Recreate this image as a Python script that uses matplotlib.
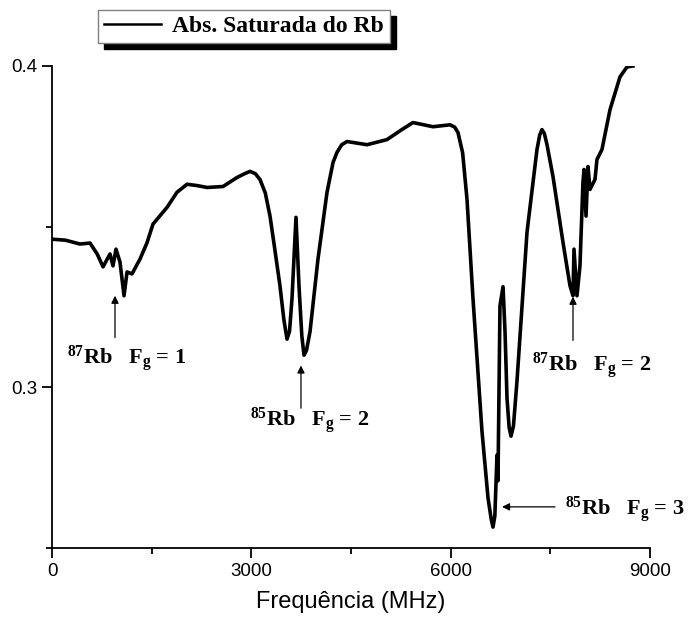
import matplotlib.pyplot as plt
from matplotlib.ticker import MultipleLocator

# saturated absorption trace
freq = [0, 200, 421, 572, 680, 768, 873, 918, 963, 1023, 1084, 1129, 1204, 1324,
        1430, 1520, 1731, 1881, 2032, 2180, 2333, 2574, 2784, 2900, 2980, 3060, 3130,
        3210, 3281, 3360, 3431, 3490, 3537, 3575, 3612, 3672, 3717, 3760, 3793,
        3830, 3883, 4003, 4139, 4230, 4289, 4360, 4440, 4741, 5042, 5250, 5433,
        5734, 5990, 6060, 6110, 6180, 6246, 6336, 6471, 6562, 6610, 6637, 6665,
        6697, 6712, 6742, 6788, 6818, 6848, 6880, 6908, 6945, 6998, 7149, 7299,
        7340, 7374, 7410, 7450, 7540, 7690, 7796, 7841, 7856, 7901, 7946, 7991,
        8007, 8037, 8067, 8097, 8172, 8202, 8277, 8398, 8548, 8653, 8743]
signal = [0.3461, 0.3458, 0.3446, 0.3449, 0.3415, 0.3375, 0.3415, 0.3378, 0.3430,
          0.3390, 0.3285, 0.3359, 0.3353, 0.3399, 0.3450, 0.3508, 0.3560, 0.3607,
          0.3632, 0.3628, 0.3622, 0.3625, 0.3653, 0.3665, 0.3672, 0.3665, 0.3647,
          0.3605, 0.3533, 0.3420, 0.3316, 0.3210, 0.3150, 0.3175, 0.3276, 0.3529,
          0.3316, 0.3160, 0.3100, 0.3115, 0.3173, 0.3399, 0.3607, 0.3700, 0.3731,
          0.3755, 0.3765, 0.3755, 0.3771, 0.3800, 0.3824, 0.3811, 0.3817, 0.3810,
          0.3793, 0.3730, 0.3585, 0.3276, 0.2864, 0.2656, 0.2590, 0.2565, 0.2600,
          0.2789, 0.2709, 0.3254, 0.3313, 0.3173, 0.2966, 0.2875, 0.2848, 0.2880,
          0.3019, 0.3483, 0.3740, 0.3785, 0.3802, 0.3790, 0.3755, 0.3656, 0.3452,
          0.3316, 0.3285, 0.3430, 0.3285, 0.3378, 0.3638, 0.3678, 0.3533, 0.3687,
          0.3616, 0.3647, 0.3709, 0.3740, 0.3864, 0.3966, 0.3997, 0.4000]

# annotations: label, text position, arrow tip, arrow tail
labels = [r'$^{87}$Rb   F$_{g}$ = 1', r'$^{85}$Rb   F$_{g}$ = 2',
          r'$^{87}$Rb   F$_{g}$ = 2', r'$^{85}$Rb   F$_{g}$ = 3']
label_xy = [(1129, 0.3090), (3883, 0.2895), (8127, 0.3068), (8624, 0.2620)]
arrow_tip = [(948, 0.3285), (3747, 0.3068), (7841, 0.3282), (6773, 0.2628)]
arrow_tail = [(948, 0.3155), (3747, 0.2935), (7841, 0.3146), (7570, 0.2628)]

plt.rcParams['mathtext.fontset'] = 'custom'
plt.rcParams['mathtext.rm'] = 'Liberation Serif:bold'
plt.rcParams['mathtext.it'] = 'Liberation Serif:bold'
plt.rcParams['mathtext.bf'] = 'Liberation Serif:bold'

fig = plt.figure(figsize=(6.9, 6.28), dpi=100)
ax = fig.add_axes([52 / 690, 1 - 548 / 628, 598 / 690, 482 / 628])

ax.plot(freq, signal, color='black', lw=2.6, solid_joinstyle='round',
        label='Abs. Saturada do Rb')

ax.set_xlim(0, 9000)
ax.set_ylim(0.25, 0.4)
ax.xaxis.set_major_locator(MultipleLocator(3000))
ax.xaxis.set_minor_locator(MultipleLocator(1500))
ax.yaxis.set_major_locator(MultipleLocator(0.1))
ax.yaxis.set_minor_locator(MultipleLocator(0.05))
ax.yaxis.set_major_formatter(plt.FuncFormatter(lambda v, p: f'{v:.1f}'))
for s in ['top', 'right']:
    ax.spines[s].set_visible(False)
for s in ['left', 'bottom']:
    ax.spines[s].set_linewidth(1.3)
ax.tick_params(which='major', direction='out', length=7, width=1.3,
               labelsize=13.5, labelfontfamily='Liberation Sans')
ax.tick_params(which='minor', direction='out', length=4.5, width=1.3)
ax.set_xlabel('Frequência (MHz)', fontsize=17, family='Liberation Sans', labelpad=8)

for lab, (tx, ty), tip, tail in zip(labels, label_xy, arrow_tip, arrow_tail):
    ax.annotate('', xy=tip, xytext=tail,
                arrowprops=dict(arrowstyle='-|>', color='black', lw=0.9,
                                mutation_scale=11, shrinkA=0, shrinkB=0))
    ax.text(tx, ty, lab, ha='center', va='center', fontsize=16,
            family='Liberation Serif', weight='bold', clip_on=False)

leg = ax.legend(loc='upper left', bbox_to_anchor=(98 / 690, 1 - 10 / 628),
                bbox_transform=fig.transFigure, borderaxespad=0, fancybox=False,
                handlelength=2.4, handletextpad=0.5, borderpad=0.25,
                prop={'family': 'Liberation Serif', 'weight': 'bold', 'size': 17},
                shadow={'ox': 4, 'oy': -4, 'color': 'black', 'alpha': 1})
leg.get_frame().set_edgecolor('gray')
leg.get_frame().set_linewidth(1.0)
leg.get_lines()[0].set_linewidth(1.8)

plt.savefig('out.png')
